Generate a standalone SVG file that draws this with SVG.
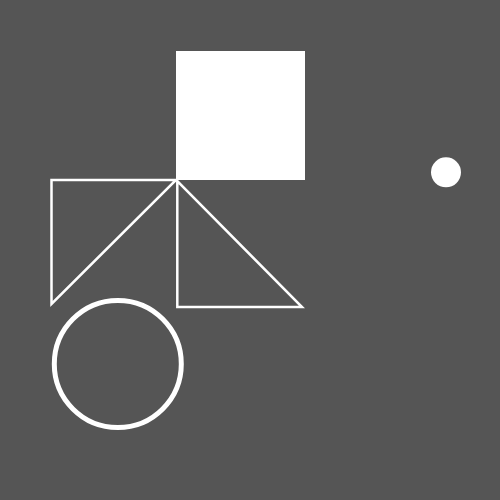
<svg xmlns="http://www.w3.org/2000/svg" width="500" height="500" viewBox="0 0 500 500">
<style>
.o{fill:none;stroke:#fff;stroke-linejoin:miter}
</style>
<rect width="500" height="500" fill="#555555"/>
<rect x="176" y="51" width="129" height="129" fill="#fff"/>
<polygon class="o" stroke-width="2.5" points="51.5,180 176,180 51.5,304"/>
<polygon class="o" stroke-width="2.5" points="177.3,181 177.3,307 302,307"/>
<circle class="o" cx="117.8" cy="364" r="63.5" stroke-width="5"/>
<circle cx="446" cy="172.3" r="15" fill="#fff"/>
</svg>
